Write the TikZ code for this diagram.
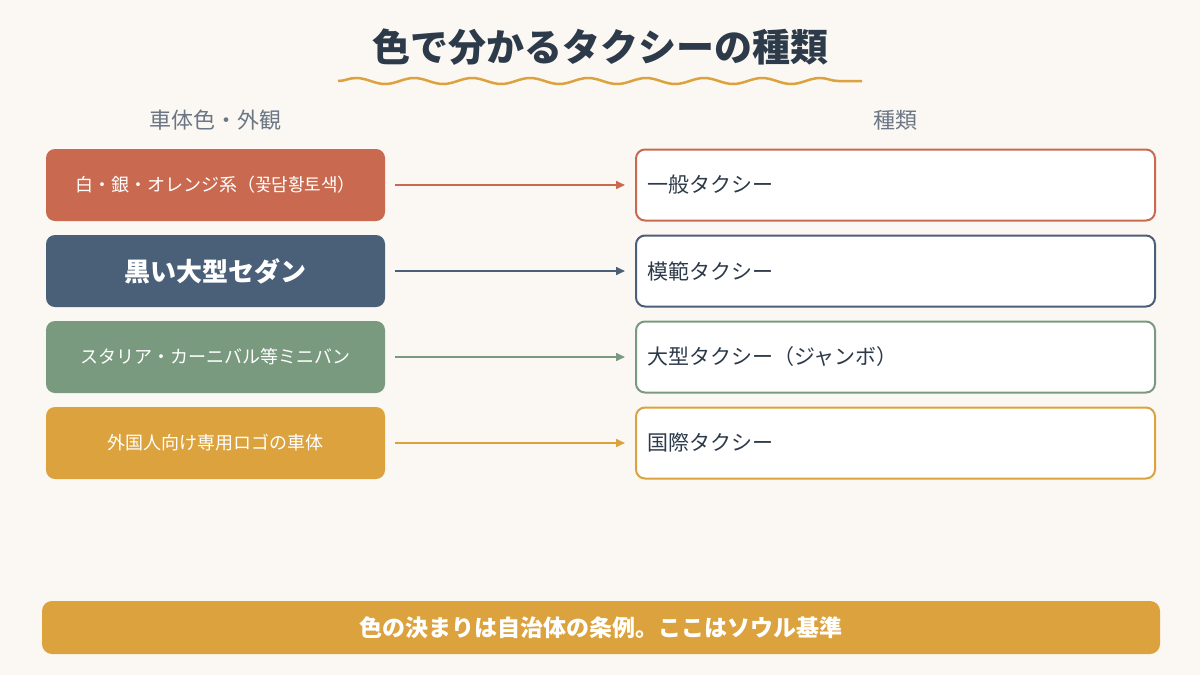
\documentclass[tikz,border=0pt]{standalone}
\usepackage{fontspec}
\setmainfont{Noto Sans CJK JP}
\usetikzlibrary{decorations.pathmorphing,arrows.meta}
\definecolor{bg}{HTML}{FBF7F3}
\definecolor{cA}{HTML}{C96A50}
\definecolor{cB}{HTML}{4A5F78}
\definecolor{cC}{HTML}{7A9A80}
\definecolor{cD}{HTML}{DBA23E}
\definecolor{ttl}{HTML}{2D3A4A}
\definecolor{hdr}{HTML}{6B7785}
\begin{document}
\begin{tikzpicture}[x=1pt,y=-1pt,
  lbox/.style={rounded corners=9pt,inner sep=0pt,minimum width=339pt,minimum height=72pt,text=white,font=\fontsize{18}{20}\selectfont},
  rbox/.style={rounded corners=9pt,inner sep=0pt,minimum width=519pt,minimum height=71pt,fill=white,line width=2pt,text=ttl,font=\fontsize{21}{24}\selectfont,text width=497pt,align=left},
  arr/.style={line width=1.6pt,-{Triangle[length=9pt,width=8pt]}}]
\fill[bg] (0,0) rectangle (1200,675);
\node[font=\fontsize{38}{42}\selectfont\bfseries,text=ttl] (title) at (600,47) {色で分かるタクシーの種類};
\draw[cD,line width=2.5pt,decorate,decoration={snake,segment length=58pt,amplitude=3pt}] (338,81) -- (862,81);
\node[font=\fontsize{22}{24}\selectfont,text=hdr] (h1) at (215,120) {車体色・外観};
\node[font=\fontsize{22}{24}\selectfont,text=hdr] (h2) at (895,120) {種類};
\foreach \i/\c/\l/\r/\f in {1/cA/{白・銀・オレンジ系（꽃담황토색）}/一般タクシー/{},2/cB/黒い大型セダン/模範タクシー/{\fontsize{26}{28}\selectfont\bfseries},3/cC/スタリア・カーニバル等ミニバン/大型タクシー（ジャンボ）/{},4/cD/外国人向け専用ロゴの車体/国際タクシー/{}}{
  \pgfmathsetmacro{\yy}{185+86*(\i-1)}
  \node[lbox,fill=\c,font=\fontsize{18}{20}\selectfont\f] (L\i) at (215.5,\yy) {\l};
  \node[rbox,draw=\c] (R\i) at (895.5,\yy) {\r};
  \draw[arr,\c] (L\i.east) ++(10,0) coordinate (s\i) -- ([xshift=-10pt]R\i.west);
}
\node[fill=cD,rounded corners=10pt,minimum width=1118pt,minimum height=53pt,text=white,font=\fontsize{23}{26}\selectfont\bfseries] (bar) at (601,627.5) {色の決まりは自治体の条例。ここはソウル基準};
\end{tikzpicture}
\end{document}
